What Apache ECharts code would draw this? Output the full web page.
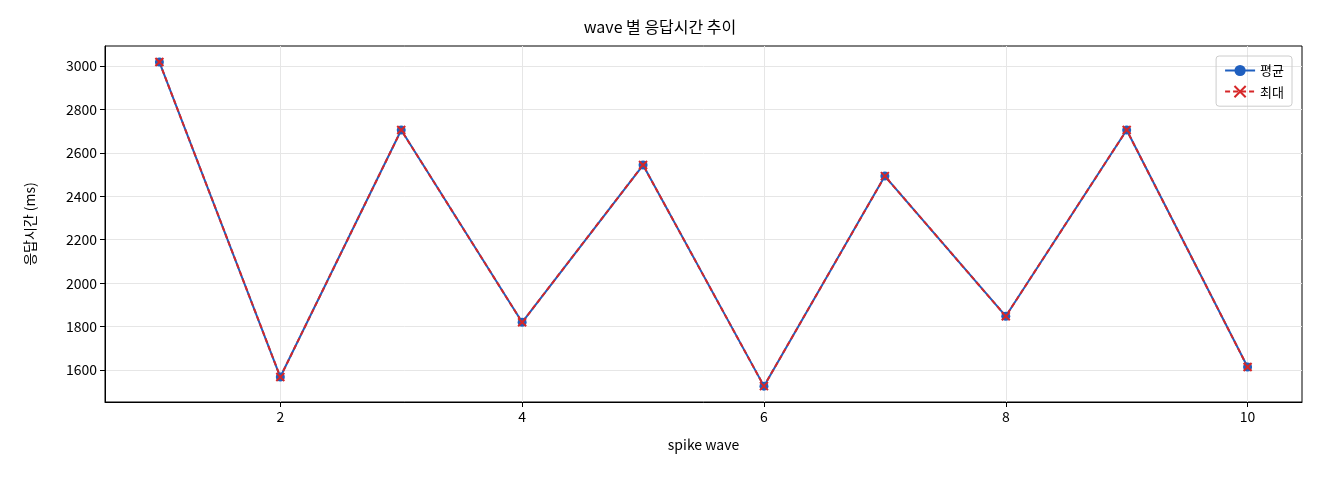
<!DOCTYPE html><html><head><meta charset="utf-8"><script src="https://cdn.jsdelivr.net/npm/echarts@6/dist/echarts.min.js"></script></head><body style="margin:0"><div id="c" style="width:1320px;height:480px"></div><script>
const waves=[1,2,3,4,5,6,7,8,9,10];
const avgVals=[3018,1568,2705,1820,2544,1526,2493,1848,2705,1614];
const maxVals=[3018,1568,2705,1820,2544,1526,2493,1848,2705,1614];
const xTicks=[2,4,6,8,10];
const yTicks=[1600,1800,2000,2200,2400,2600,2800,3000];
const F='"Noto Sans CJK KR", "DejaVu Sans", sans-serif';
const X='path://M0,0L10,10M10,0L0,10';
const ch=echarts.init(document.getElementById('c'));
ch.setOption({animation:false,
title:{text:'wave 별 응답시간 추이',left:'center',top:14,textStyle:{fontFamily:F,fontSize:16,fontWeight:'normal',color:'#000'}},
legend:{right:28,top:56,orient:'vertical',itemGap:8,borderColor:'#ccc',borderWidth:1,borderRadius:3,padding:[8,8],textStyle:{fontFamily:F,fontSize:13,color:'#000'},itemWidth:30,
 data:['평균','최대']},
grid:{left:105,right:18,top:46,bottom:78,show:true,borderColor:'#000',borderWidth:1},
xAxis:{type:'value',min:0.55,max:10.45,name:'spike wave',nameLocation:'middle',nameGap:36,nameTextStyle:{fontFamily:F,fontSize:14,color:'#000'},
 axisLine:{onZero:false,lineStyle:{color:'#000'}},axisTick:{customValues:xTicks,lineStyle:{color:'#000'}},axisLabel:{customValues:xTicks,fontFamily:F,fontSize:14,color:'#000'},
 splitLine:{show:true,lineStyle:{color:'#e6e6e6'}}},
yAxis:{type:'value',min:1453,max:3092,name:'응답시간 (ms)',nameLocation:'middle',nameGap:68,nameTextStyle:{fontFamily:F,fontSize:14,color:'#000'},
 axisLine:{show:true,lineStyle:{color:'#000'}},axisTick:{show:true,customValues:yTicks,lineStyle:{color:'#000'}},axisLabel:{customValues:yTicks,formatter:v=>String(v),fontFamily:F,fontSize:14,color:'#000'},
 splitLine:{show:true,lineStyle:{color:'#e6e6e6'}}},
series:[
 {name:'평균',type:'line',data:waves.map((w,i)=>[w,avgVals[i]]),symbol:'circle',symbolSize:9,itemStyle:{color:'#1f5fbf'},lineStyle:{color:'#1f5fbf',width:2}},
 {name:'최대',type:'line',data:waves.map((w,i)=>[w,maxVals[i]]),symbol:X,symbolSize:8,itemStyle:{color:'#d62728',borderColor:'#d62728',borderWidth:2},lineStyle:{color:'#d62728',width:2,type:[5,3]}}
]});
</script></body></html>
